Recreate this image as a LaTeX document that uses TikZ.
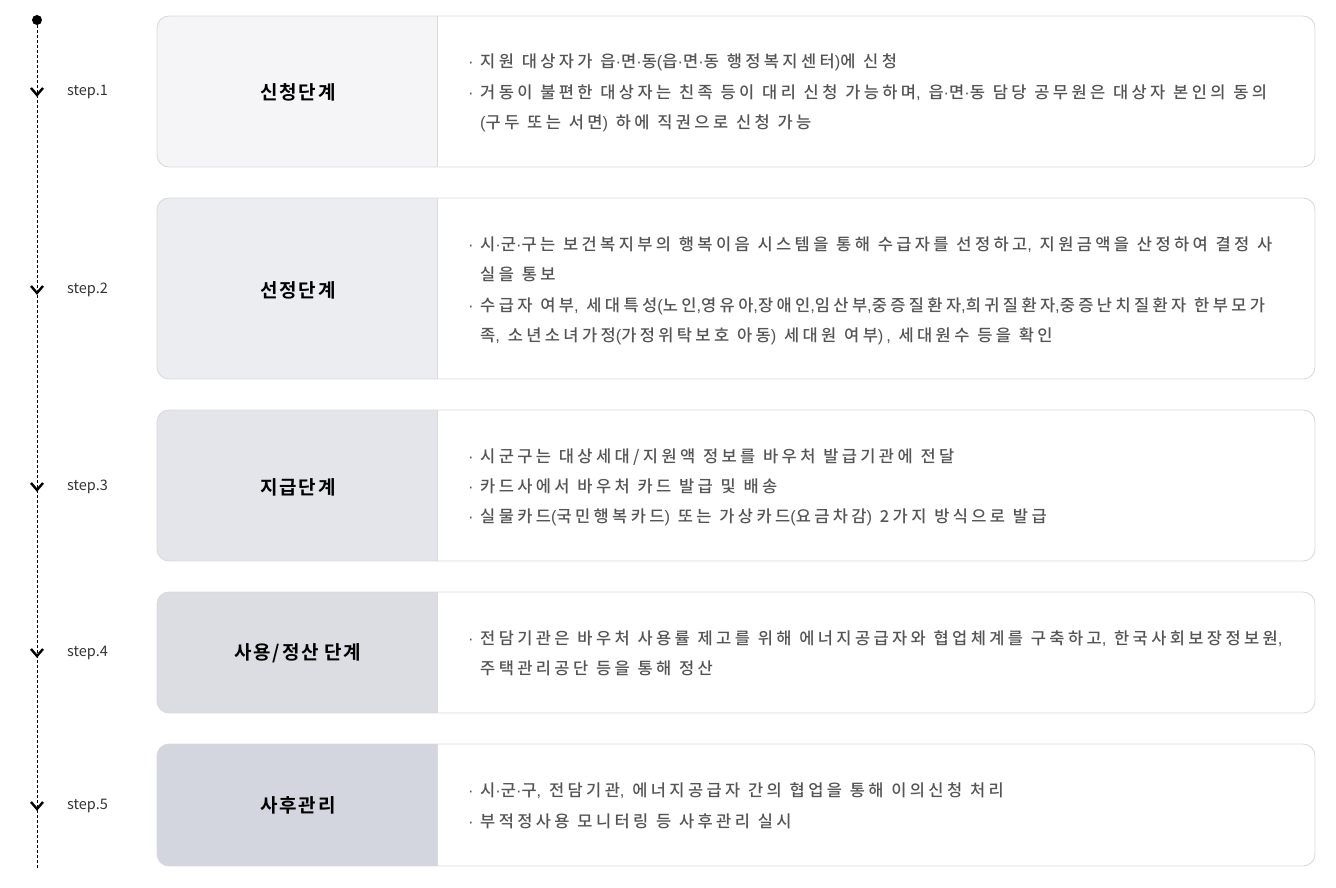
\documentclass[tikz,border=0pt]{standalone}
\usepackage{fontspec}
\setmainfont{Noto Sans CJK KR}
\newfontfamily\bodyf{Noto Sans CJK KR Medium}[LetterSpace=20.5, WordSpace=1.1]
\newfontfamily\titlef{Noto Sans CJK KR Bold}[LetterSpace=9]
\newfontfamily\punctf{Liberation Sans}[LetterSpace=17]
\XeTeXinterchartokenstate=1
\newXeTeXintercharclass\punctclass
\XeTeXcharclass`\(=\punctclass
\XeTeXcharclass`\)=\punctclass
\XeTeXcharclass`\,=\punctclass
\XeTeXcharclass"00B7=\punctclass
\XeTeXinterchartoks 0 \punctclass={\begingroup\punctf}
\XeTeXinterchartoks 4095 \punctclass={\begingroup\punctf}
\XeTeXinterchartoks \punctclass 0={\endgroup}
\XeTeXinterchartoks \punctclass 4095={\endgroup}
\usetikzlibrary{calc}
\definecolor{cA}{HTML}{F5F5F7}
\definecolor{cB}{HTML}{ECEDF1}
\definecolor{cC}{HTML}{E4E5EA}
\definecolor{cD}{HTML}{DCDDE2}
\definecolor{cE}{HTML}{D3D6DE}
\definecolor{bordc}{HTML}{DADADA}
\definecolor{bodyc}{HTML}{555555}
\definecolor{stepc}{HTML}{333333}
\tikzset{
  bodytxt/.style={anchor=base west, inner sep=0, text=bodyc, font=\bodyf\fontsize{16.5}{20}\selectfont},
  titletxt/.style={anchor=center, inner sep=0, text=black, font=\titlef\fontsize{19}{22}\selectfont},
  steptxt/.style={anchor=west, inner sep=0, text=stepc, font=\fontsize{14.5}{18}\selectfont},
  chev/.style={line width=2.4pt, black},
  boxborder/.style={draw=bordc, line width=0.9pt, rounded corners=12pt},
}
\begin{document}
\begin{tikzpicture}[x=1pt,y=-1pt]
\useasboundingbox (0,0) rectangle (1336,888);
% timeline
\draw[dash pattern=on 3pt off 2pt, line width=1pt] (37,20) -- (37,868);
\fill (37,20) circle (5);
\foreach \yy/\nm/\lab in {92/s1/step.1, 290/s2/step.2, 487/s3/step.3, 653/s4/step.4, 806/s5/step.5}{
  \draw[chev] (31,\yy-4) -- (37,\yy+3) -- (43,\yy-4);
  \node[steptxt] (\nm) at (67,\yy) {\lab};
}
% rows
\foreach \top/\bot/\col in {16/167/cA, 198/379/cB, 410/561/cC, 592/713/cD, 744/866/cE}{
  \fill[white, rounded corners=12pt] (157,\top) rectangle (1315,\bot);
  \begin{scope}
    \clip[rounded corners=12pt] (157,\top) rectangle (1315,\bot);
    \fill[\col] (157,\top) rectangle (437,\bot);
  \end{scope}
  \draw[bordc, line width=0.9pt] (437.5,\top) -- (437.5,\bot);
  \draw[boxborder] (157,\top) rectangle (1315,\bot);
}
% titles
\node[titletxt] (t1) at (298,92) {신청단계};
\node[titletxt] (t2) at (298,290) {선정단계};
\node[titletxt] (t3) at (298,487) {지급단계};
\node[titletxt] (t4) at (298,653) {사용/정산 단계};
\node[titletxt] (t5) at (298,805) {사후관리};
% body lines
\newcommand{\bl}[3]{\node[bodytxt] (#1d) at (468,#2+6) {·}; \node[bodytxt] (#1) at (480,#2+6) {#3};}
\newcommand{\cl}[3]{\node[bodytxt] (#1) at (480,#2+6) {#3};}
\bl{a1}{62}{지원 대상자가 읍·면·동(읍·면·동 행정복지센터)에 신청}
\bl{a2}{93}{거동이 불편한 대상자는 친족 등이 대리 신청 가능하며, 읍·면·동 담당 공무원은 대상자 본인의 동의}
\cl{a3}{123}{(구두 또는 서면) 하에 직권으로 신청 가능}
\bl{b1}{244}{시·군·구는 보건복지부의 행복이음 시스템을 통해 수급자를 선정하고, 지원금액을 산정하여 결정 사}
\cl{b2}{274}{실을 통보}
\bl{b3}{305}{수급자 여부, 세대특성(노인,영유아,장애인,임산부,중증질환자,희귀질환자,중증난치질환자 한부모가}
\cl{b4}{335}{족, 소년소녀가정(가정위탁보호 아동) 세대원 여부), 세대원수 등을 확인}
\bl{c1}{456}{시군구는 대상세대/지원액 정보를 바우처 발급기관에 전달}
\bl{c2}{486}{카드사에서 바우처 카드 발급 및 배송}
\bl{c3}{516}{실물카드(국민행복카드) 또는 가상카드(요금차감) 2가지 방식으로 발급}
\bl{d1}{638}{전담기관은 바우처 사용률 제고를 위해 에너지공급자와 협업체계를 구축하고, 한국사회보장정보원,}
\cl{d2}{668}{주택관리공단 등을 통해 정산}
\bl{e1}{790}{시·군·구, 전담기관, 에너지공급자 간의 협업을 통해 이의신청 처리}
\bl{e2}{821}{부적정사용 모니터링 등 사후관리 실시}
\end{tikzpicture}
\end{document}
